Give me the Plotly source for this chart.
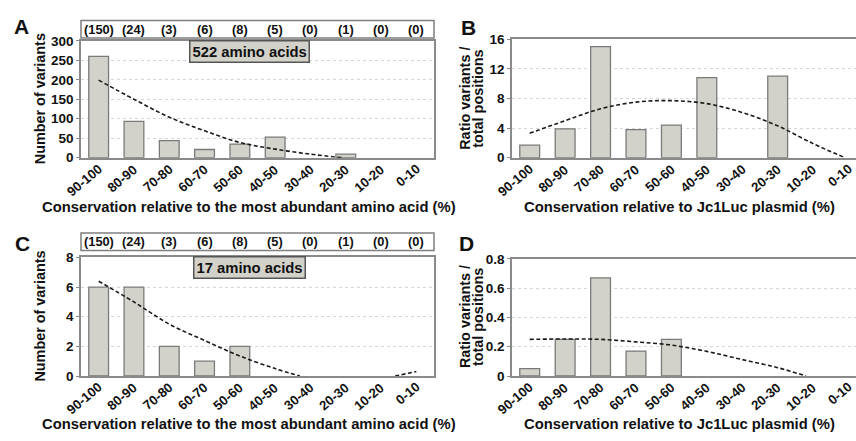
import plotly.graph_objects as go

W, H = 856, 441

categories = ["90-100", "80-90", "70-80", "60-70", "50-60",
              "40-50", "30-40", "20-30", "10-20", "0-10"]
counts = [150, 24, 3, 6, 8, 5, 0, 1, 0, 0]

a_values = [260, 93, 44, 21, 35, 53, 0, 9, 0, 0]
b_values = [1.7, 3.9, 15.0, 3.8, 4.4, 10.8, 0, 11.0, 0, 0]
c_values = [6, 6, 2, 1, 2, 0, 0, 0, 0, 0]
d_values = [0.05, 0.25, 0.67, 0.17, 0.25, 0, 0, 0, 0, 0]

a_trend_x = [0, 1, 2, 3, 4, 5, 6, 6.9]
a_trend_y = [199, 150, 104, 69, 39, 22, 9, 0]
b_trend_x = [0, 1, 2, 3, 4, 5, 6, 7, 8, 8.9]
b_trend_y = [3.3, 5.0, 6.6, 7.5, 7.7, 7.3, 6.1, 4.3, 1.9, 0]
c_trend1_x = [0, 1, 2, 3, 4, 5, 5.7]
c_trend1_y = [6.4, 5.0, 3.5, 2.4, 1.35, 0.5, 0]
c_trend2_x = [8.4, 9.0]
c_trend2_y = [0, 0.3]
d_trend_x = [0, 1, 2, 3, 4, 5, 6, 7, 7.8]
d_trend_y = [0.25, 0.253, 0.25, 0.233, 0.211, 0.168, 0.112, 0.057, 0]

FONT = "Arial, Liberation Sans, sans-serif"
BAR_FILL = "#d3d2ca"
BAR_LINE = "#7a7a7a"
AX = "#8a8a8a"

def py(y):
    return 1 - y / H

def px(x):
    return x / W

idx = list(range(len(categories)))
fig = go.Figure()

panels = [
    ("x", "y", a_values, [(a_trend_x, a_trend_y)]),
    ("x2", "y2", b_values, [(b_trend_x, b_trend_y)]),
    ("x3", "y3", c_values, [(c_trend1_x, c_trend1_y), (c_trend2_x, c_trend2_y)]),
    ("x4", "y4", d_values, [(d_trend_x, d_trend_y)]),
]
for xa, ya, vals, trends in panels:
    shown = [v if v else None for v in vals]
    fig.add_trace(go.Bar(x=idx, y=shown, xaxis=xa, yaxis=ya, width=0.56,
                         marker=dict(color=BAR_FILL, line=dict(color=BAR_LINE, width=1.3))))
    for tx, ty in trends:
        fig.add_trace(go.Scatter(x=tx, y=ty, xaxis=xa, yaxis=ya, mode="lines",
                                 line=dict(color="#1a1a1a", width=1.6, dash="4px,2.5px", shape="spline")))

def xaxis(domain, rng, mirror):
    return dict(domain=domain, range=rng, tickvals=idx, showticklabels=False,
                showgrid=False, zeroline=False, showline=True, linecolor=AX, linewidth=1.5,
                mirror=mirror, ticks="", fixedrange=True)

def yaxis(domain, rng, dtick, mirror, anchor):
    return dict(domain=domain, range=rng, dtick=dtick, anchor=anchor,
                tickfont=dict(family=FONT, size=13.5, color="#111", weight="bold"),
                showgrid=True, gridcolor="#d6d6d6", griddash="dot", gridwidth=1,
                zeroline=False, showline=True, linecolor=AX, linewidth=1.5, mirror=mirror,
                ticks="outside", ticklen=3, tickcolor=AX, fixedrange=True)

left_dom = [px(81), px(434)]
right_dom = [px(512), 1.0]
rng_left = [-0.5, 9.5]
rng_right = [-0.5, (856 - 529) / 35.5]

fig.update_layout(
    width=W, height=H, margin=dict(l=0, r=0, t=0, b=0),
    paper_bgcolor="white", plot_bgcolor="white", showlegend=False,
    xaxis=dict(xaxis(left_dom, rng_left, True), anchor="y"),
    yaxis=yaxis([py(156), py(35)], [0, 300], 50, True, "x"),
    xaxis2=dict(xaxis(right_dom, rng_right, True), anchor="y2"),
    yaxis2=yaxis([py(156), py(33.3)], [0, 16], 4, False, "x2"),
    xaxis3=dict(xaxis(left_dom, rng_left, True), anchor="y3"),
    yaxis3=yaxis([py(382), py(259.3)], [0, 8], 2, True, "x3"),
    xaxis4=dict(xaxis(right_dom, rng_right, True), anchor="y4"),
    yaxis4=yaxis([py(382), py(260.7)], [0, 0.8], 0.2, False, "x4"),
)

ann = []
shapes = []

def bold(size):
    return dict(family=FONT, size=size, color="#111", weight="bold")

# rotated category labels (end-anchored under each tick)
for xa, base in [("x", 156), ("x2", 156), ("x3", 382), ("x4", 382)]:
    for i, cat in enumerate(categories):
        ann.append(dict(xref=xa, yref="paper", x=i, y=py(base + 1), xshift=9,
                        text=cat, showarrow=False, textangle=-40,
                        xanchor="right", yanchor="top", font=bold(13.2)))

# count boxes
for xa, top, bot in [("x", 14, 32), ("x3", 234, 252)]:
    shapes.append(dict(type="rect", xref=xa + " domain", yref="paper", x0=0, x1=1,
                       y0=py(bot), y1=py(top), line=dict(color="#7f7f7f", width=1.5)))
    for i, n in enumerate(counts):
        ann.append(dict(xref=xa, yref="paper", x=i, y=py((top + bot) / 2), text=f"({n})",
                        showarrow=False, xanchor="center", yanchor="middle", font=bold(12.8)))

# amino acid label boxes
for xa, yc, txt in [("x", 46.5, "522 amino acids"), ("x3", 270, "17 amino acids")]:
    ann.append(dict(xref=xa + " domain", yref="paper", x=(249 - 81) / 353, y=py(yc), text=txt,
                    showarrow=False, xanchor="center", yanchor="middle", font=bold(14.8),
                    bgcolor="#d3d2ca", bordercolor="#555", borderwidth=1.5, borderpad=2))

# panel letters
for letter, x, y in [("A", 21, 20.5), ("B", 468, 21.5), ("C", 22.5, 245), ("D", 466.5, 245)]:
    ann.append(dict(xref="paper", yref="paper", x=px(x), y=py(y), text=letter, showarrow=False,
                    xanchor="center", yanchor="middle", font=bold(21)))

# x titles
for x, y, txt in [(248.5, 207, "Conservation relative to the most abundant amino acid (%)"),
                  (679, 207, "Conservation relative to Jc1Luc plasmid (%)"),
                  (248.5, 432, "Conservation relative to the most abundant amino acid (%)"),
                  (679, 432, "Conservation relative to Jc1Luc plasmid (%)")]:
    ann.append(dict(xref="paper", yref="paper", x=px(x), y=py(y), text=txt, showarrow=False,
                    xanchor="center", yanchor="middle", font=bold(14.8)))

# y titles
for x, y in [(40, 95.5), (40, 320.5)]:
    ann.append(dict(xref="paper", yref="paper", x=px(x), y=py(y), text="Number of variants",
                    showarrow=False, textangle=-90, xanchor="center", yanchor="middle", font=bold(14.4)))
for yc in [95, 321]:
    for x, txt in [(465, "Ratio variants /"), (478, "total positions")]:
        ann.append(dict(xref="paper", yref="paper", x=px(x), y=py(yc), text=txt,
                        showarrow=False, textangle=-90, xanchor="center", yanchor="middle", font=bold(14.4)))

fig.update_layout(annotations=ann, shapes=shapes)
fig.write_html("out.html")
